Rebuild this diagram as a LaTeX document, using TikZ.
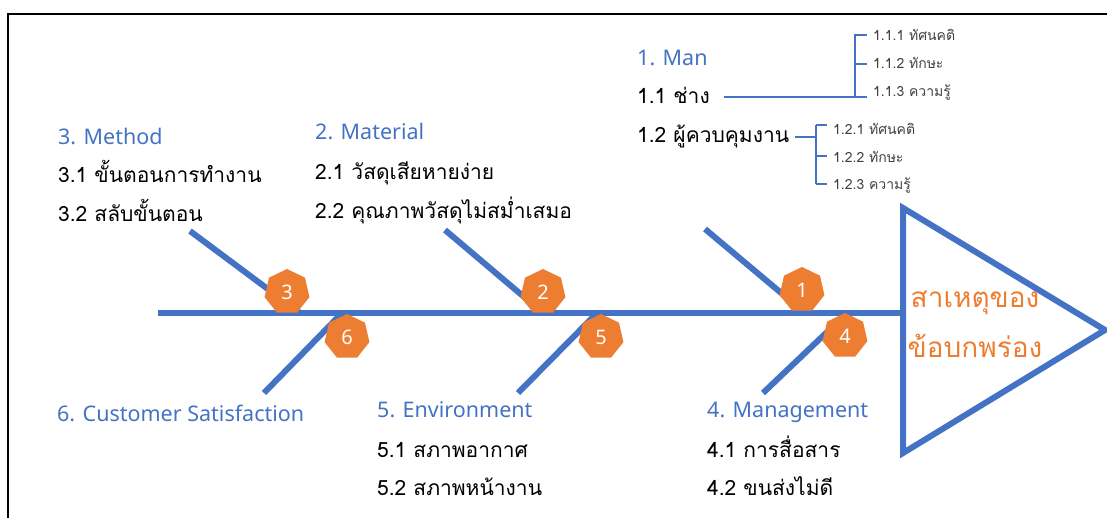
\documentclass[tikz,border=0pt]{standalone}
\usepackage{fontspec}
\setmainfont{Noto Sans}
\newfontfamily\thai[Script=Thai]{Loma}
\usetikzlibrary{shapes.geometric}
\definecolor{fbblue}{HTML}{4472C4}
\definecolor{fborange}{HTML}{ED7D31}
\definecolor{fbgray}{HTML}{404040}
\tikzset{
  bone/.style={draw=fbblue, line width=6pt},
  hept/.style={regular polygon, regular polygon sides=7, fill=fborange, draw=none,
    minimum size=46pt, inner sep=0pt, text=white, font=\fontsize{20}{22}\selectfont},
  cat/.style={anchor=base west, inner sep=0pt, text=fbblue, font=\fontsize{21.5}{24}\selectfont},
  item/.style={anchor=base west, inner sep=0pt, text=black, font=\thai\fontsize{21}{24}\selectfont},
  sub/.style={anchor=base west, inner sep=0pt, text=fbgray, font=\thai\fontsize{14}{16}\selectfont},
  brk/.style={draw=fbblue, line width=1.1pt},
  head/.style={anchor=base, inner sep=0pt, text=fborange, font=\thai\fontsize{28}{32}\selectfont}
}
\begin{document}
\begin{tikzpicture}[x=1pt,y=-1pt]
\useasboundingbox (0,0) rectangle (1107,518);
% frame
\draw[line width=2pt, black] (8,520) -- (8,14) -- (1110,14);
% spine and head
\coordinate (tail) at (158,313);
\coordinate (tl) at (903,208);
\coordinate (tb) at (903,453);
\coordinate (tip) at (1105,330);
\coordinate (neck) at (903,313);
\draw[bone] (tail) -- (neck);
\draw[bone, line join=miter] (tl) -- (tip) -- (tb) -- cycle;
\node[head] (effect1) at (975,307) {สาเหตุของ};
\node[head] (effect2) at (975,357) {ข้อบกพร่อง};
% bones
\coordinate (e3) at (190,231); \coordinate (s3) at (300,313);
\coordinate (e2) at (445,230); \coordinate (s2) at (543,313);
\coordinate (e1) at (705,229); \coordinate (s1) at (805,313);
\coordinate (e6) at (264,393); \coordinate (s6) at (342,313);
\coordinate (e5) at (518,393); \coordinate (s5) at (597,313);
\coordinate (e4) at (763,393); \coordinate (s4) at (847,313);
\foreach \i in {1,...,6} {\draw[bone] (e\i) -- (s\i);}
% heptagons
\node[hept] (h3) at (287,292) {3};
\node[hept] (h2) at (543,292) {2};
\node[hept] (h1) at (802,290) {1};
\node[hept] (h6) at (347,337) {6};
\node[hept] (h5) at (601,337) {5};
\node[hept] (h4) at (845,336) {4};
% category texts
\node[cat] (c3) at (58,145) {3. Method};
\node[item] (i31) at (58,183) {3.1 ขั้นตอนการทำงาน};
\node[item] (i32) at (58,222) {3.2 สลับขั้นตอน};
\node[cat] (c2) at (315,140) {2. Material};
\node[item] (i21) at (315,180) {2.1 วัสดุเสียหายง่าย};
\node[item] (i22) at (315,219) {2.2 คุณภาพวัสดุไม่สม่ำเสมอ};
\node[cat] (c1) at (637,66) {1. Man};
\node[item] (i11) at (637,104) {1.1 ช่าง};
\node[item] (i12) at (637,143) {1.2 ผู้ควบคุมงาน};
\node[cat] (c6) at (57,421) {6. Customer Satisfaction};
\node[cat] (c5) at (377,417) {5. Environment};
\node[item] (i51) at (377,457) {5.1 สภาพอากาศ};
\node[item] (i52) at (377,495) {5.2 สภาพหน้างาน};
\node[cat] (c4) at (707,417) {4. Management};
\node[item] (i41) at (707,457) {4.1 การสื่อสาร};
\node[item] (i42) at (707,495) {4.2 ขนส่งไม่ดี};
% sub items of 1.1
\node[sub] (s111) at (873,41) {1.1.1 ทัศนคติ};
\node[sub] (s112) at (873,69) {1.1.2 ทักษะ};
\node[sub] (s113) at (873,97) {1.1.3 ความรู้};
\coordinate (a11) at (724,97);
\coordinate (b11) at (855,97);
\coordinate (t111) at (855,35);
\coordinate (t112) at (855,64);
\draw[brk] (a11) -- (b11);
\draw[brk] (b11) -- (t111) -- ([xshift=12pt]t111);
\draw[brk] (t112) -- ([xshift=12pt]t112);
\draw[brk] (b11) -- ([xshift=12pt]b11);
% sub items of 1.2
\node[sub] (s121) at (833,135) {1.2.1 ทัศนคติ};
\node[sub] (s122) at (833,163) {1.2.2 ทักษะ};
\node[sub] (s123) at (833,190) {1.2.3 ความรู้};
\coordinate (a12) at (795,137);
\coordinate (b12) at (816,137);
\coordinate (t121) at (816,125);
\coordinate (t122) at (816,156);
\coordinate (t123) at (816,184);
\draw[brk] (a12) -- (b12);
\draw[brk] (t121) -- (t123);
\foreach \k in {1,2,3} {\draw[brk] (t12\k) -- ([xshift=11pt]t12\k);}
\end{tikzpicture}
\end{document}
